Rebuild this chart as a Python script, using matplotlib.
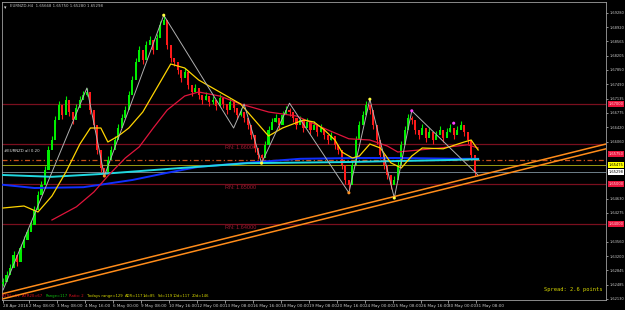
import matplotlib
matplotlib.use("Agg")
import matplotlib.pyplot as plt
import matplotlib.transforms as mtransforms
import numpy as np

# ---------------- data (prices) ----------------
close = [1.6255,1.6273,1.6290,1.6323,1.6305,1.6340,1.6360,1.6380,1.6398,1.6435,
         1.6473,1.6498,1.6535,1.6585,1.6610,1.6660,1.6698,1.6673,1.6710,1.6680,
         1.6660,1.6690,1.6710,1.6723,1.6730,1.6685,1.6648,1.6585,1.6540,1.6530,
         1.6560,1.6585,1.6610,1.6640,1.6665,1.6685,1.6723,1.6760,1.6805,1.6835,
         1.6810,1.6848,1.6860,1.6835,1.6865,1.6898,1.6910,1.6848,1.6815,1.6805,
         1.6785,1.6765,1.6780,1.6748,1.6730,1.6740,1.6723,1.6710,1.6720,1.6705,
         1.6710,1.6695,1.6715,1.6700,1.6685,1.6705,1.6690,1.6673,1.6680,1.6665,
         1.6648,1.6623,1.6590,1.6573,1.6565,1.6598,1.6635,1.6655,1.6665,1.6648,
         1.6673,1.6685,1.6680,1.6665,1.6648,1.6660,1.6640,1.6655,1.6635,1.6648,
         1.6630,1.6640,1.6623,1.6610,1.6620,1.6598,1.6585,1.6548,1.6510,1.6498,
         1.6548,1.6610,1.6648,1.6673,1.6698,1.6685,1.6648,1.6610,1.6573,1.6548,
         1.6523,1.6498,1.6510,1.6548,1.6598,1.6635,1.6665,1.6660,1.6635,1.6623,
         1.6640,1.6615,1.6630,1.6610,1.6623,1.6635,1.6615,1.6630,1.6640,1.6623,
         1.6635,1.6648,1.6630,1.6610,1.6573,1.6530]
high = [c + 0.0010 for c in close]
low = [c - 0.0010 for c in close]
open_ = [close[0] - 0.0005] + close[:-1]

date_labels = ["28 Apr 2016", "2 May 08:00", "3 May 08:00", "4 May 16:00", "6 May 00:00",
               "9 May 08:00", "10 May 16:00", "12 May 00:00", "13 May 08:00", "16 May 16:00",
               "18 May 00:00", "19 May 08:00", "20 May 16:00", "24 May 00:00", "25 May 08:00",
               "26 May 16:00", "30 May 00:00", "31 May 08:00"]
date_pos = [0, 7.5, 15.5, 23.5, 31.5, 39.5, 47.5, 55.5, 63.5, 71.5, 79.5, 87.5, 95.5,
            103.5, 111.5, 119.5, 127.5, 135.5]

price_ticks = [1.69280, 1.68920, 1.68565, 1.68205, 1.67850, 1.67490, 1.67135, 1.66775,
               1.66420, 1.66060, 1.64630, 1.64275, 1.63560, 1.63200, 1.62845, 1.62485, 1.62130]

rn_levels = [1.67, 1.66, 1.65, 1.64]
box_levels = [1.67000, 1.65750, 1.65475, 1.65298, 1.65000, 1.64000]
box_colors = ["#e8143c", "#e8143c", "#ffff00", "#ffffff", "#e8143c", "#e8143c"]
box_text_colors = ["#ffd0d8", "#ffd0d8", "#000000", "#000000", "#ffd0d8", "#ffd0d8"]

# moving averages as knots (bar index, price)
yellow_i = [0, 6, 10, 14, 18, 22, 25, 28, 30, 33, 36, 40, 44, 48, 52, 56, 62, 68, 72, 76, 80, 86, 89, 92, 95, 97, 100, 102, 105, 108, 111, 114, 117, 120, 126, 132, 134, 136]
yellow_p = [1.6440, 1.6445, 1.6430, 1.6470, 1.6530, 1.6600, 1.6640, 1.6640, 1.6605, 1.6620, 1.6640, 1.6680, 1.6740, 1.6800, 1.6790, 1.6760, 1.6730, 1.6700, 1.6660, 1.6620, 1.6640, 1.6660, 1.6655, 1.6635, 1.6610, 1.6580, 1.6565, 1.6570, 1.6600, 1.6590, 1.6553, 1.6540, 1.6570, 1.6590, 1.6588, 1.6605, 1.6610, 1.6585]
red_i = [14, 21, 26, 30, 35, 39, 43, 47, 52, 56, 62, 68, 76, 84, 93, 99, 105, 110, 113, 119, 125, 133, 136]
red_p = [1.6410, 1.6443, 1.6480, 1.6520, 1.6565, 1.6593, 1.6640, 1.6685, 1.6720, 1.6730, 1.6720, 1.6700, 1.6680, 1.6670, 1.6635, 1.6613, 1.6610, 1.6595, 1.6580, 1.6585, 1.6590, 1.6598, 1.6590]
blue_i = [0, 9, 23, 37, 47, 56, 70, 85, 100, 115, 130, 136]
blue_p = [1.6498, 1.6490, 1.6492, 1.6510, 1.6528, 1.6543, 1.6553, 1.6563, 1.6565, 1.6565, 1.6563, 1.6563]
cyan_i = [0, 14, 28, 47, 70, 99, 128, 136]
cyan_p = [1.65225, 1.6518, 1.6525, 1.65375, 1.6552, 1.6555, 1.6560, 1.6562]

zig_i = [0, 24, 29, 46, 66, 69, 74, 82, 99, 105, 112, 117, 136]
zig_p = [1.6235, 1.6740, 1.6520, 1.6922, 1.6640, 1.6700, 1.6552, 1.6702, 1.6478, 1.6712, 1.6465, 1.6683, 1.6522]
dot_i = [46, 74, 105, 112, 29, 99, 117, 129]
dot_p = [1.6922, 1.6552, 1.6712, 1.6465, 1.6520, 1.6478, 1.6683, 1.6652]
dot_c = ["#ffff40", "#ffff40", "#ffff40", "#ffff40", "#ff9020", "#ff9020", "#ff40ff", "#ff40ff"]

info_texts = ["ATR5=51  ATR20=67", "Range=117", "Ratio: 2", "Todays range=129", "ADR=117",
              "1d=85", "5d=119", "10d=117", "20d=146"]
info_colors = ["#e01020", "#10c010", "#e01020", "#d8d800", "#d8d800", "#d8d800", "#d8d800",
               "#d8d800", "#d8d800"]
info_x = [2, 46, 69, 87, 125, 143, 158, 173, 192]

# ---------------- figure ----------------
W, H = 625, 310
fig = plt.figure(figsize=(W / 100, H / 100), dpi=100, facecolor="black")
ax = fig.add_axes([2 / W, 1 - 300 / H, (606 - 2) / W, (300 - 2) / H])
ax.set_facecolor("black")
ax.set_xlim(-0.3, 172.6)
ax.set_ylim(1.6210, 1.6955)

n = len(close)
idx = np.arange(n)
op = np.array(open_); cl = np.array(close)
bull = cl >= op
col = np.where(bull, "#00ee00", "#ff1a1a")

# horizontal levels
for lv in rn_levels:
    ax.axhline(lv, color="#7a0f1e", lw=0.9, zorder=1)
ax.axhline(1.6560, color="#c8501a", lw=0.9, ls=(0, (4, 2, 1, 2)), zorder=1)
ax.axhline(1.65475, color="#9a9a10", lw=0.7, zorder=1)
ax.axhline(1.65298, color="#6f7f8a", lw=0.7, zorder=1)

# candles
ax.vlines(idx, low, high, colors=col, lw=0.8, zorder=3)
ax.bar(idx, np.abs(cl - op) + 0.00005, bottom=np.minimum(cl, op), width=0.6, color=col, zorder=3, linewidth=0)

# MAs
ax.plot(blue_i, blue_p, color="#1030ff", lw=1.4, zorder=4)
ax.plot(cyan_i, cyan_p, color="#20d8e0", lw=1.4, zorder=4)
ax.plot(red_i, red_p, color="#e0153c", lw=0.9, zorder=5)
ax.plot(yellow_i, yellow_p, color="#ffd400", lw=0.9, zorder=5)

# zigzag
ax.plot(zig_i, zig_p, color="#b0b0b0", lw=0.7, zorder=6)
ax.scatter(dot_i, dot_p, s=5, c=dot_c, zorder=7, linewidths=0)

# trend lines
tl_i = [0, 172.6]
ax.plot(tl_i, [1.6226, 1.6600], color="#ff8c1a", lw=1.1, zorder=6)
ax.plot(tl_i, [1.6213, 1.6588], color="#ff8c1a", lw=1.1, zorder=6)

# RN labels
for lv in rn_levels[1:]:
    ax.text(63.5, lv - 0.0002, f"RN: {lv:.5f}", color="#a01830", fontsize=4.0, va="top", family="Liberation Sans")

# right axis
ax.spines[:].set_color("#a0a0a0")
ax.spines[:].set_linewidth(0.6)
ax.yaxis.tick_right()
ax.set_yticks(price_ticks)
ax.set_yticklabels([f"{t:.5f}" for t in price_ticks])
ax.tick_params(axis="y", colors="#c8c8c8", labelsize=2.6, length=1.5, width=0.5, pad=0.8)
ax.set_xticks(date_pos)
ax.set_xticklabels(date_labels, ha="left")
ax.tick_params(axis="x", colors="#c8c8c8", labelsize=3.0, length=2, width=0.5, pad=1)
for lab in ax.get_yticklabels() + ax.get_xticklabels():
    lab.set_family("Liberation Sans Narrow")

trans = mtransforms.blended_transform_factory(ax.transAxes, ax.transData)
for lv, bc, tc in zip(box_levels, box_colors, box_text_colors):
    ax.text(1.004, lv, f"{lv:.5f}", transform=trans, color=tc, fontsize=2.6, va="center", ha="left",
            family="Liberation Sans Narrow",
            bbox=dict(boxstyle="square,pad=0.2", fc=bc, ec="none"), clip_on=False, zorder=10)

# texts
ax.text(0.013, 0.993, "EURNZD,H4  1.65668 1.65750 1.65280 1.65298", transform=ax.transAxes,
        color="#c0c0c0", fontsize=2.8, va="top", family="Liberation Sans Narrow")
ax.text(0.004, 0.990, "\u25be", transform=ax.transAxes, color="#e0e0e0", fontsize=3.5, va="top")
ax.text(0.898, 0.027, "Spread: 2.6 points", transform=ax.transAxes, color="#d8d800",
        fontsize=3.9, va="bottom", ha="left", family="DejaVu Sans Mono")
for t, c, xp in zip(info_texts, info_colors, info_x):
    ax.text((xp - 2) / 604, 0.006, t, transform=ax.transAxes, color=c, fontsize=2.7,
            va="bottom", ha="left", family="Liberation Sans Narrow")
ax.text(0.003, 1.6583, "#EURNZD all 0.20", transform=trans, color="#e0e0e0", fontsize=2.8,
        va="center", ha="left", family="Liberation Sans Narrow")

fig.savefig("out.png", dpi=100, facecolor="black")
